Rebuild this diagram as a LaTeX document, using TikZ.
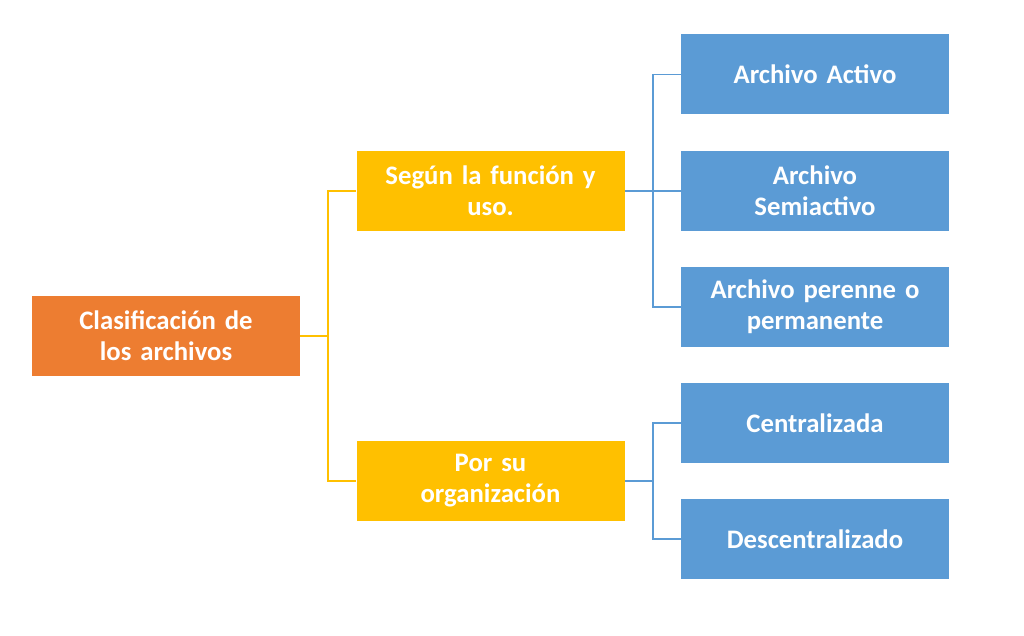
\documentclass[tikz,border=0pt]{standalone}
\usepackage{fontspec}
\setmainfont{Carlito}
\usepackage{tikz}
\definecolor{rootc}{HTML}{ED7D31}
\definecolor{midc}{HTML}{FFC000}
\definecolor{leafc}{HTML}{5B9BD5}
\begin{document}
\begin{tikzpicture}[x=0.025cm,y=-0.025cm,
  box/.style={minimum width=268*0.025cm,minimum height=80*0.025cm,inner sep=1pt,
    text=white,font=\fontsize{19}{22}\selectfont\bfseries,align=center,text width=262*0.025cm},
  rootbox/.style={box,fill=rootc},
  midbox/.style={box,fill=midc},
  leafbox/.style={box,fill=leafc},
  midline/.style={midc,line width=1pt},
  leafline/.style={leafc,line width=1pt}]
  \useasboundingbox (0,0) rectangle (1024,636);

  \node[rootbox] (clas) at (166,336) {Clasificación de\\los archivos};
  \node[midbox] (funcion) at (490.5,191) {Según la función y\\uso.};
  \node[midbox] (organiz) at (490.5,481) {Por su\\organización};

  \node[leafbox] (activo) at (815,74.5) {Archivo Activo};
  \node[leafbox] (semi) at (815,191) {Archivo\\Semiactivo};
  \node[leafbox] (perenne) at (815,307) {Archivo perenne o\\permanente};
  \node[leafbox] (central) at (815,423) {Centralizada};
  \node[leafbox] (descentral) at (815,539) {Descentralizado};

  \coordinate (j1) at (328,336);
  \coordinate (j2) at (653,191);
  \coordinate (j3) at (653,481);

  \draw[midline] (clas) -- (j1);
  \draw[midline] (j1) |- (funcion);
  \draw[midline] (j1) |- (organiz);

  \draw[leafline] (funcion) -- (j2);
  \draw[leafline] (j2) |- (activo);
  \draw[leafline] (j2) -- (semi);
  \draw[leafline] (j2) |- (perenne);

  \draw[leafline] (organiz) -- (j3);
  \draw[leafline] (j3) |- (central);
  \draw[leafline] (j3) |- (descentral);
\end{tikzpicture}
\end{document}
